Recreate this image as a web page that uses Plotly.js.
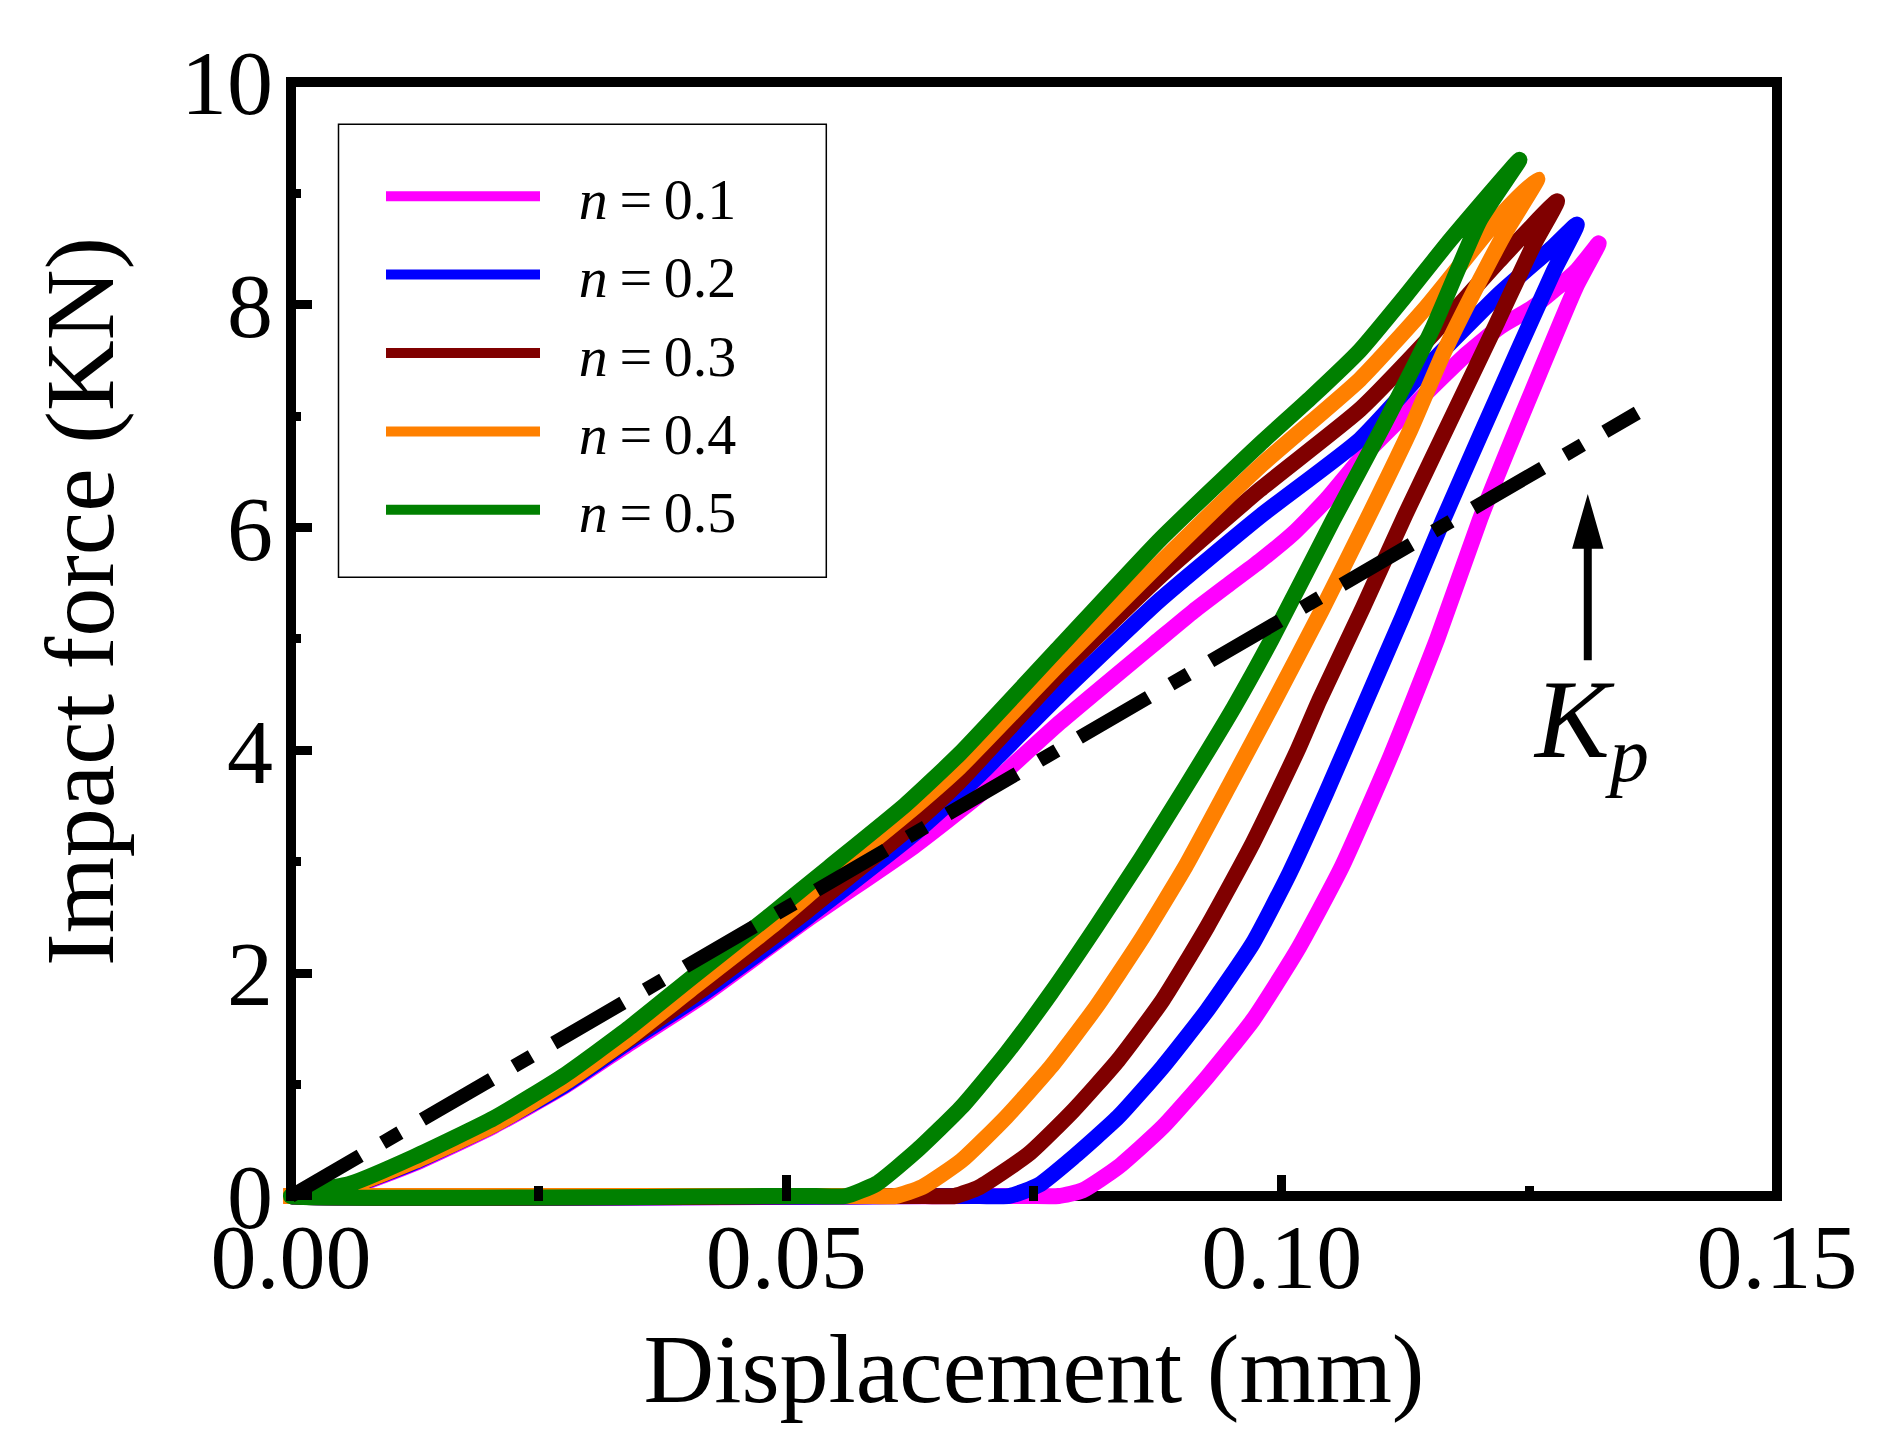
<!DOCTYPE html>
<html><head><meta charset="utf-8">
<script src="https://cdn.plot.ly/plotly-3.0.1.min.js"></script>
<style>
html,body{margin:0;padding:0;background:#fff;}
#chart{width:1899px;height:1454px;}
.scatterlayer path.js-line{stroke-linejoin:round;}
</style>
</head><body><div id="chart"></div>
<script>
// ---- data ----
const seriesNames = ['\u2002\u200a<i>n</i>\u2009=\u20090.1', '\u2002\u200a<i>n</i>\u2009=\u20090.2', '\u2002\u200a<i>n</i>\u2009=\u20090.3', '\u2002\u200a<i>n</i>\u2009=\u20090.4', '\u2002\u200a<i>n</i>\u2009=\u20090.5'];
const seriesColors = ['#ff00ff', '#0000ff', '#800000', '#ff8000', '#008000'];

const x_n01 = [0,0.006,0.0124,0.0205,0.0277,0.034,0.0413,0.0521,0.0629,0.0695,0.0776,0.0877,0.0911,0.0945,0.0978,0.1012,0.1045,0.1079,0.1119,0.1187,0.122,0.1254,0.1298,0.132,
               0.1297,0.126,0.1227,0.12,0.1157,0.111,0.1061,0.1016,0.0971,0.0925,0.088,0.0835,0.0799,0.0775,0.0745,0.069,0];
const y_n01 = [0,0.08,0.29,0.63,0.99,1.36,1.78,2.48,3.14,3.60,4.25,5.00,5.25,5.48,5.70,5.95,6.25,6.61,6.97,7.56,7.80,7.98,8.31,8.55,
               8.16,7.38,6.67,6.07,5.0,3.95,2.96,2.21,1.58,1.07,0.62,0.26,0.05,0,0,0,0];

const x_n02 = [0,0.006,0.0124,0.0205,0.0277,0.034,0.0413,0.0521,0.0629,0.0695,0.0776,0.0877,0.0978,0.1079,0.1153,0.122,0.1274,0.1298,
               0.1275,0.1238,0.12,0.1163,0.1122,0.1082,0.1045,0.1008,0.0971,0.0925,0.088,0.0835,0.079,0.0755,0.0725,0.0695,0.064,0];
const y_n02 = [0,0.09,0.30,0.64,1.00,1.38,1.80,2.50,3.25,3.78,4.50,5.35,6.10,6.79,7.50,8.10,8.52,8.72,
               8.31,7.58,6.82,6.07,5.20,4.38,3.62,2.90,2.27,1.67,1.16,0.71,0.35,0.10,0,0,0,0];

const x_n03 = [0,0.006,0.0124,0.0205,0.0277,0.034,0.0413,0.0521,0.0629,0.0675,0.0776,0.0877,0.0978,0.1079,0.1153,0.122,0.1278,
               0.1255,0.1218,0.1175,0.1125,0.1082,0.1038,0.1016,0.0971,0.0925,0.088,0.0835,0.079,0.0745,0.0695,0.067,0.064,0.059,0];
const y_n03 = [0,0.09,0.31,0.65,1.02,1.40,1.84,2.56,3.34,3.72,4.69,5.56,6.34,7.06,7.74,8.40,8.93,
               8.55,7.85,7.05,6.12,5.28,4.45,4.00,3.17,2.42,1.76,1.22,0.77,0.38,0.08,0,0,0,0];

const x_n04 = [0,0.006,0.0124,0.0205,0.0277,0.034,0.0403,0.0485,0.0543,0.062,0.0675,0.0776,0.0877,0.0978,0.1079,0.1146,0.122,0.1258,
               0.1227,0.12,0.1163,0.113,0.1086,0.104,0.0993,0.0948,0.0903,0.0858,0.0813,0.0767,0.0722,0.0677,0.0637,0.061,0.058,0.053,-0.0008];
const y_n04 = [0,0.09,0.31,0.64,1.02,1.41,1.85,2.42,2.86,3.42,3.85,4.78,5.68,6.55,7.33,7.98,8.79,9.13,
               8.67,8.22,7.56,6.88,6.07,5.25,4.45,3.70,2.96,2.30,1.70,1.16,0.71,0.32,0.08,0,0,0,0];

const x_n05 = [0,0.006,0.0124,0.0205,0.0277,0.034,0.0403,0.0485,0.0543,0.062,0.0675,0.0776,0.0877,0.0978,0.103,0.1079,0.1125,0.117,0.124,
               0.12,0.1153,0.1103,0.1052,0.099,0.0952,0.0903,0.0858,0.0813,0.0767,0.0722,0.0677,0.0632,0.0591,0.056,0.053,0.048,0];
const y_n05 = [0,0.11,0.35,0.70,1.09,1.50,1.95,2.53,2.95,3.51,3.97,4.93,5.89,6.75,7.17,7.59,8.08,8.58,9.30,
               8.76,7.80,6.92,6.07,5.00,4.39,3.67,3.03,2.42,1.82,1.28,0.80,0.41,0.11,0,0,0,0];

const x_kp = [0, 0.1359];
const y_kp = [0, 7.03];

const xTickVals = [0, 0.05, 0.10, 0.15];
const xTickText = ['0.00', '0.05', '0.10', '0.15'];
const yTickVals = [0, 2, 4, 6, 8, 10];
const yTickText = ['0', '2', '4', '6', '8', '10'];

// ---- plot ----
const FONT = 'Liberation Serif, Times New Roman, serif';
const W = 1899, H = 1454;
// pixel mapping of the reference: x=0 -> 291px, x=0.15 -> 1777px; y=0 -> 1196px, y=10 -> 82px
const px = v => 291 + v * (1486 / 0.15);
const py = v => 1196 - v * 111.4;
const xDom = (a, b) => [px(a) / W, px(b) / W];
const yDom = (a, b) => [(H - py(a)) / H, (H - py(b)) / H];

const dataXR = [-0.0025, 0.1525], dataYR = [-0.25, 10.25];   // data subplot (a bit larger, so lines are not cut)
const axXR = [-0.0005, 0.1505], axYR = [-0.045, 10.045];     // axis subplot (outer edge of the frame)

function buildTraces() {
  const xs = [x_n01, x_n02, x_n03, x_n04, x_n05];
  const ys = [y_n01, y_n02, y_n03, y_n04, y_n05];
  const t = xs.map((x, i) => ({
    type: 'scatter', mode: 'lines', x: x, y: ys[i], name: seriesNames[i],
    xaxis: 'x', yaxis: 'y',
    line: {color: seriesColors[i], width: 16, shape: 'spline', smoothing: 0.5},
    hoverinfo: 'skip'
  }));
  t.push({
    type: 'scatter', mode: 'lines', x: x_kp, y: y_kp, showlegend: false, xaxis: 'x', yaxis: 'y',
    line: {color: '#000', width: 14, dash: '80px,26px,20px,26px'}, hoverinfo: 'skip'
  });
  t.push({type: 'scatter', mode: 'markers', x: [], y: [], xaxis: 'x2', yaxis: 'y2', showlegend: false, hoverinfo: 'skip'});
  return t;
}
const traces = buildTraces();

const tickStyle = {ticks: 'inside', ticklen: 26, tickwidth: 9, tickcolor: '#000',
  showgrid: false, zeroline: false, showline: false, tickfont: {family: FONT, size: 92, color: '#000'}};

const layout = {
  width: W, height: H,
  margin: {l: 0, r: 0, t: 0, b: 0},
  paper_bgcolor: '#fff', plot_bgcolor: 'rgba(0,0,0,0)',
  showlegend: true,
  font: {family: FONT, color: '#000'},
  xaxis: {domain: xDom(dataXR[0], dataXR[1]), range: dataXR, visible: false, anchor: 'y'},
  yaxis: {domain: yDom(dataYR[0], dataYR[1]), range: dataYR, visible: false, anchor: 'x'},
  xaxis2: Object.assign({}, tickStyle, {
    domain: xDom(axXR[0], axXR[1]), range: axXR, anchor: 'y2',
    tickmode: 'array', tickvals: xTickVals, ticktext: xTickText, ticklabelstandoff: -6,
    minor: {ticks: 'inside', dtick: 0.025, tick0: 0, ticklen: 15, tickwidth: 9, tickcolor: '#000', showgrid: false},
    title: {text: 'Displacement (mm)', font: {family: FONT, size: 98, color: '#000'}, standoff: 26}
  }),
  yaxis2: Object.assign({}, tickStyle, {
    domain: yDom(axYR[0], axYR[1]), range: axYR, anchor: 'x2',
    tickmode: 'array', tickvals: yTickVals, ticktext: yTickText, ticklabelstandoff: 12,
    minor: {ticks: 'inside', dtick: 1, tick0: 0, ticklen: 15, tickwidth: 9, tickcolor: '#000', showgrid: false}
  }),
  legend: {
    x: 381 / W, y: (H - 152) / H, xanchor: 'left', yanchor: 'top',
    bgcolor: 'rgba(0,0,0,0)', borderwidth: 0,
    font: {family: FONT, size: 58, color: '#000'},
    itemwidth: 154, tracegroupgap: 0
  },
  shapes: [
    {type: 'rect', xref: 'paper', yref: 'paper', x0: 338.5 / W, x1: 826.3 / W, y0: (H - 577.3) / H, y1: (H - 124.3) / H,
     line: {color: '#000', width: 1.5}, fillcolor: '#fff', layer: 'below'},
    {type: 'rect', xref: 'x', yref: 'y', x0: 0, x1: 0.15, y0: 0, y1: 10,
     line: {color: '#000', width: 10}, fillcolor: 'rgba(0,0,0,0)', layer: 'below'},
    {type: 'line', xref: 'x', yref: 'y', x0: 0.1309, x1: 0.1309, y0: 4.81, y1: 5.9,
     line: {color: '#000', width: 8}, layer: 'above'},
    {type: 'path', xref: 'x', yref: 'y', path: 'M0.1309,6.27 L0.12945,5.82 L0.13235,5.82 Z',
     fillcolor: '#000', line: {color: '#000', width: 2}, layer: 'above'}
  ],
  annotations: [
    {xref: 'x', yref: 'y', x: 0.1312, y: 4.21, showarrow: false,
     text: '<i>K</i><sub><i>p</i></sub>', font: {family: FONT, size: 112, color: '#000'},
     xanchor: 'center', yanchor: 'middle'},
    {xref: 'paper', yref: 'paper', x: 80 / W, y: (H - 602) / H, showarrow: false, textangle: -90,
     text: 'Impact force (KN)', font: {family: FONT, size: 98, color: '#000'},
     xanchor: 'center', yanchor: 'middle'}
  ]
};

Plotly.newPlot('chart', traces, layout, {displayModeBar: false, staticPlot: true});
</script>
</body></html>
